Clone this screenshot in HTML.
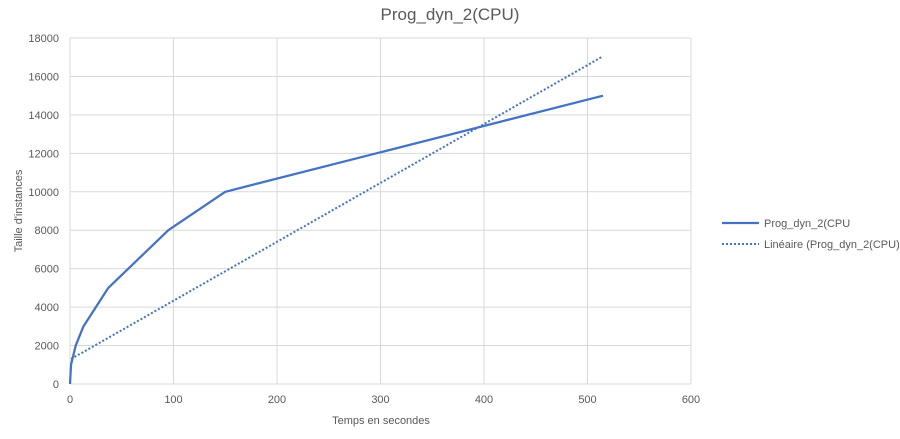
<!DOCTYPE html>
<html><head><meta charset="utf-8"><style>
body{margin:0;background:#fff;font-family:"Liberation Sans",sans-serif}
</style></head><body>
<svg id="c" width="900" height="434" font-family="Liberation Sans, sans-serif"></svg>
<script>
const xTicks=[0,100,200,300,400,500,600];
const yTicks=[0,2000,4000,6000,8000,10000,12000,14000,16000,18000];
const seriesX=[0,1,5.5,13,37,95,150,515];
const seriesY=[0,1000,2000,3000,5000,8000,10000,15000];
const trendX=[1,515];
const trendY=[1300,17050];
const svg=document.getElementById('c');
const NS='http://www.w3.org/2000/svg';
const X=v=>70+v*(691-70)/600;
const Y=v=>384-v*(384-38)/18000;
function mk(t,a,p){const e=document.createElementNS(NS,t);for(const k in a)e.setAttribute(k,a[k]);(p||svg).appendChild(e);return e;}
xTicks.forEach(v=>{
 const l=mk('line',{x1:X(v),x2:X(v),y1:38,y2:384,stroke:'#d9d9d9'});
 
 
 const t=mk('text',{x:X(v),y:403,'text-anchor':'middle','font-size':11,fill:'#595959'});t.textContent=v;
 
 
});
yTicks.forEach(v=>{
 const l=mk('line',{x1:70,x2:691,y1:Y(v),y2:Y(v),stroke:'#d9d9d9'});
 
 
 const t=mk('text',{x:59,y:Y(v)+4,'text-anchor':'end','font-size':11,fill:'#595959'});t.textContent=v;
 
 
});
const tr=mk('polyline',{points:trendX.map((x,i)=>X(x)+','+Y(trendY[i])).join(' '),fill:'none',stroke:'#4472c4','stroke-width':2,'stroke-dasharray':'2 2'});


const s=mk('polyline',{points:seriesX.map((x,i)=>X(x)+','+Y(seriesY[i])).join(' '),fill:'none',stroke:'#4472c4','stroke-width':2.25,'stroke-linejoin':'round'});


function txt(x,y,str,sz,name,extra){const t=mk('text',Object.assign({x:x,y:y,'font-size':sz,fill:'#595959'},extra||{}));t.textContent=str;return t;}
txt(450,20,'Prog_dyn_2(CPU)',17,'chart-title',{'text-anchor':'middle'});
txt(381,424,'Temps en secondes',11,'x-axis-title',{'text-anchor':'middle'});
txt(22,211,"Taille d'instances",11,'y-axis-title',{'text-anchor':'middle',transform:'rotate(-90 22 211)'});
const l1=mk('line',{x1:722,x2:759,y1:223,y2:223,stroke:'#4472c4','stroke-width':2.25});


txt(764,227,'Prog_dyn_2(CPU',11,'legend-series-label');
const l2=mk('line',{x1:722,x2:759,y1:244,y2:244,stroke:'#4472c4','stroke-width':2,'stroke-dasharray':'2 2'});


txt(764,248,'Linéaire (Prog_dyn_2(CPU)',11,'legend-trend-label');
</script>
</body></html>
